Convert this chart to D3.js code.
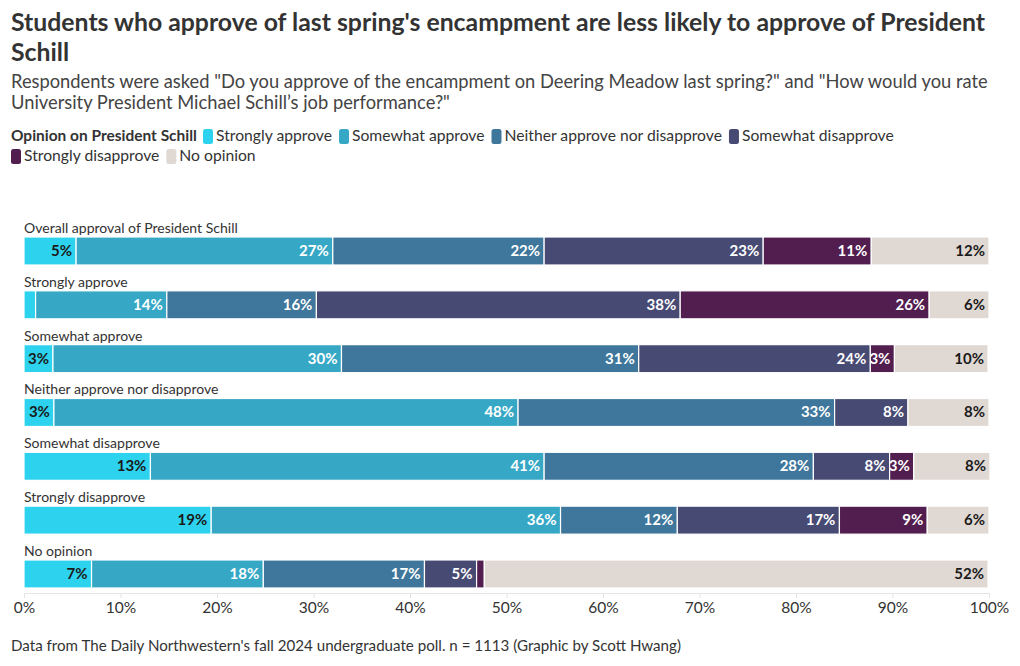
<!DOCTYPE html>
<html><head><meta charset="utf-8">
<script src="https://cdn.jsdelivr.net/npm/d3@7"></script>
<style>
body{margin:0;background:#fff;}
svg{font-family:Lato,"Noto Sans",sans-serif;}
</style></head>
<body><svg id="c" width="1020" height="666"></svg>
<script>
const title = ["Students who approve of last spring's encampment are less likely to approve of President", "Schill"];
const subtitle = ["Respondents were asked \"Do you approve of the encampment on Deering Meadow last spring?\" and \"How would you rate", "University President Michael Schill\u2019s job performance?\""];
const legendTitle = "Opinion on President Schill";
const footer = "Data from The Daily Northwestern's fall 2024 undergraduate poll. n = 1113 (Graphic by Scott Hwang)";
const categories = ["Overall approval of President Schill","Strongly approve","Somewhat approve","Neither approve nor disapprove","Somewhat disapprove","Strongly disapprove","No opinion"];
const seriesNames = ["Strongly approve","Somewhat approve","Neither approve nor disapprove","Somewhat disapprove","Strongly disapprove","No opinion"];
const colors = ["#2dd3ee","#36a8c6","#3e779b","#474a73","#521d4f","#e0d8d3"];
const stronglyApprove    = [5.4, 1.2, 3.0, 3.1, 13.1, 19.4, 7.0];
const somewhatApprove    = [26.6, 13.6, 29.9, 48.1, 40.8, 36.2, 17.8];
const neither            = [21.9, 15.5, 30.8, 32.8, 27.9, 12.1, 16.7];
const somewhatDisapprove = [22.7, 37.7, 24.0, 7.6, 7.9, 16.8, 5.4];
const stronglyDisapprove = [11.2, 25.8, 2.5, 0, 2.5, 9.1, 0.8];
const noOpinion          = [12.2, 6.2, 9.7, 8.4, 7.9, 6.4, 52.2];
const ticks = [0,10,20,30,40,50,60,70,80,90,100];

const series = [stronglyApprove, somewhatApprove, neither, somewhatDisapprove, stronglyDisapprove, noOpinion];
const svg = d3.select("#c");

function fit(sel, target){
  const base = parseFloat(sel.attr("font-size"));
  const w = sel.node().getComputedTextLength();
  const f = base*target/w;
  sel.attr("font-size", f.toFixed(2));
  return f;
}

// Title
const t1 = svg.append("text").attr("x",11).attr("y",31).attr("font-size",22).attr("font-weight",700).attr("fill","#333").text(title[0]);
const tfs = fit(t1, 974);
const t1box = t1.node().getBBox();
const t2 = svg.append("text").attr("x",11).attr("font-size",tfs.toFixed(2)).attr("font-weight",700).attr("fill","#333").text(title[1]);
t2.attr("y", 0);
const t2top = t2.node().getBBox().y; // negative ascent
t2.attr("y", Math.max(58, t1box.y + t1box.height + 0.5 - t2top));
// Subtitle
const s1 = svg.append("text").attr("x",11).attr("y",88).attr("font-size",17).attr("fill","#444").text(subtitle[0]);
const sfs = fit(s1, 977);
svg.append("text").attr("x",11).attr("y",109).attr("font-size",sfs.toFixed(2)).attr("fill","#444").text(subtitle[1]);

// Legend
const lg = svg.append("g");
const lt = lg.append("text").attr("x",11).attr("y",141).attr("font-size",14.5).attr("font-weight",700).attr("fill","#333").text(legendTitle);
fit(lt, 186);
const probe = lg.append("text").attr("font-size",14.5).text(seriesNames[0]);
const lfs = fit(probe, 116);
probe.remove();
let lx = 11 + 186 + 6, ly = 141;
seriesNames.forEach((n,i)=>{
  const tmp = lg.append("text").attr("font-size",lfs.toFixed(2)).attr("fill","#333").text(n);
  const w = tmp.node().getComputedTextLength();
  if (lx + 13 + w > 1005){ lx = 11; ly += 20; }
  lg.append("rect").attr("x",lx).attr("y",ly-12).attr("width",10).attr("height",15).attr("rx",2.5).attr("fill",colors[i]);
  tmp.attr("x",lx+13).attr("y",ly);
  lx += 13 + w + 7;
});

// Scales
const x = d3.scaleLinear().domain([0,100]).range([24,989]);
const y = d3.scaleBand().domain(categories).range([220, 220+7*53.83]).padding(0);

const rows = categories.map((c,ri)=>{
  let acc = 0;
  return series.map((s,si)=>{ const v=s[ri]; const seg={cat:c, si, v, x0:acc, x1:acc+v}; acc+=v; return seg; });
});

const g = svg.append("g");
const rl = g.selectAll("text.rl").data(categories).join("text").attr("class","rl")
  .attr("x",24).attr("y",c=>y(c)+13).attr("font-size",13).attr("fill","#333").text(c=>c);
const rfs = 13*214/rl.nodes()[0].getComputedTextLength();
rl.attr("font-size", rfs.toFixed(2));

const segs = rows.flat().filter(d=>d.v>0);
g.selectAll("rect.seg").data(segs).join("rect").attr("class","seg")
  .attr("x",d=>x(d.x0)).attr("y",d=>y(d.cat)+17)
  .attr("width",d=>Math.max(0,x(d.x1)-x(d.x0)))
  .attr("height",28).attr("fill",d=>colors[d.si])
  .attr("stroke","#fff").attr("stroke-width",1.2);
g.selectAll("text.lab").data(segs.filter(d=>x(d.x1)-x(d.x0)>=20)).join("text").attr("class","lab")
  .attr("x",d=>x(d.x1)-4).attr("y",d=>y(d.cat)+17+19)
  .attr("text-anchor","end").attr("font-size",15).attr("font-weight",700)
  .attr("fill",d=>(d.si===0||d.si===5)?"#1a1a1a":"#fff")
  .text(d=>Math.round(d.v)+"%");

// Axis
const ax = svg.append("g").attr("transform","translate(0,593)")
  .call(d3.axisBottom(x).tickValues(ticks).tickFormat(d=>d+"%").tickSize(5).tickPadding(4));
ax.select(".domain").attr("stroke","#e4e4e4");
ax.selectAll(".tick line").attr("stroke","#e4e4e4");
ax.selectAll(".tick text").attr("font-size",15.5).attr("fill","#333").attr("font-family","Lato,'Noto Sans',sans-serif");

// Footer
const ft = svg.append("text").attr("x",11).attr("y",651).attr("font-size",14.5).attr("fill","#333").text(footer);
fit(ft, 670);
</script></body></html>
